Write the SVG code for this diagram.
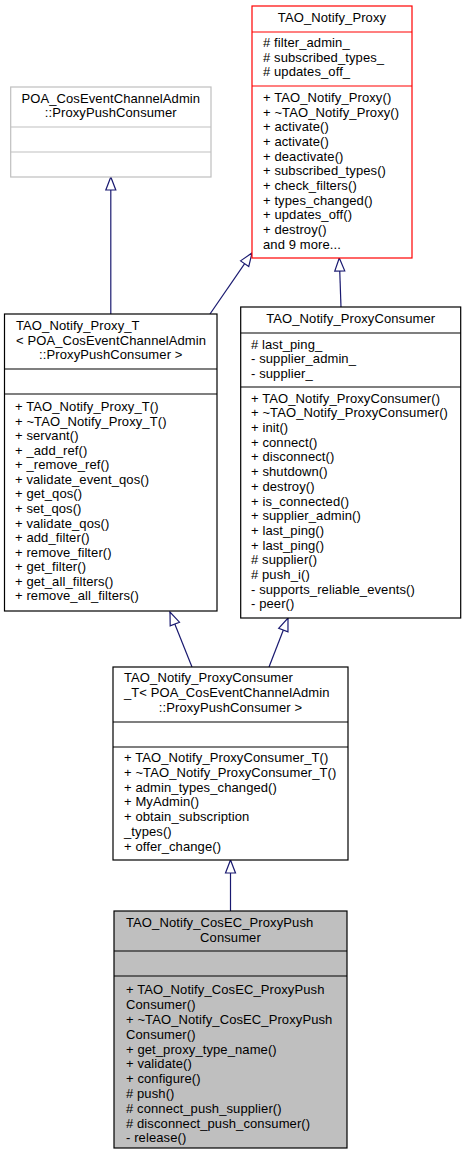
<svg xmlns="http://www.w3.org/2000/svg" width="465" height="1155" viewBox="0 0 465 1155">
<style>
text{font-family:"Liberation Sans",Arial,sans-serif;font-size:13px;letter-spacing:0.1px;fill:#000}
.c{text-anchor:middle}
.box{fill:#fff;stroke:#000;stroke-width:1.2}
.ln{stroke:#000;stroke-width:1.2}
.gbox{fill:#fff;stroke:#bfbfbf;stroke-width:1.2}
.gln{stroke:#bfbfbf;stroke-width:1.2}
.rbox{fill:#fff;stroke:#ff0000;stroke-width:1.2}
.rln{stroke:#ff0000;stroke-width:1.2}
.sbox{fill:#bfbfbf;stroke:#000;stroke-width:1.2}
.edge{fill:none;stroke:#191970;stroke-width:1.2;marker-end:url(#inh)}
</style>
<defs>
<marker id="inh" markerUnits="userSpaceOnUse" markerWidth="16" markerHeight="14" refX="14" refY="7" orient="auto">
<path d="M1,2 L14,7 L1,12 Z" fill="#fff" stroke="#191970" stroke-width="1.2"/>
</marker>
</defs>
<rect width="465" height="1155" fill="#fff"/>

<g id="connectors">
<path class="edge" d="M110.8,314 L110.8,177"/>
<path class="edge" d="M210,314 L252,253"/>
<path class="edge" d="M341,307 L339.3,258"/>
<path class="edge" d="M192,667 L170,612"/>
<path class="edge" d="M269,667 L288,618"/>
<path class="edge" d="M230.5,911 L230.5,860"/>
</g>

<g id="TAO_Notify_Proxy">
<rect class="rbox" x="252" y="6" width="160" height="252"/>
<line class="rln" x1="252" y1="32" x2="412" y2="32"/>
<line class="rln" x1="252" y1="86" x2="412" y2="86"/>
<text class="c" x="332" y="21.8">TAO_Notify_Proxy</text>
<text x="263" y="46.8"># filter_admin_</text>
<text x="263" y="61.5"># subscribed_types_</text>
<text x="263" y="76.2"># updates_off_</text>
<text x="263" y="101.8">+ TAO_Notify_Proxy()</text>
<text x="263" y="116.5">+ ~TAO_Notify_Proxy()</text>
<text x="263" y="131.2">+ activate()</text>
<text x="263" y="145.9">+ activate()</text>
<text x="263" y="160.6">+ deactivate()</text>
<text x="263" y="175.3">+ subscribed_types()</text>
<text x="263" y="190">+ check_filters()</text>
<text x="263" y="204.7">+ types_changed()</text>
<text x="263" y="219.4">+ updates_off()</text>
<text x="263" y="234.1">+ destroy()</text>
<text x="263" y="248.8">and 9 more...</text>
</g>

<g id="POA_ProxyPushConsumer">
<rect class="gbox" x="10.7" y="87" width="200.3" height="90"/>
<line class="gln" x1="10.7" y1="127" x2="211" y2="127"/>
<line class="gln" x1="10.7" y1="152" x2="211" y2="152"/>
<text class="c" x="110.8" y="102.8">POA_CosEventChannelAdmin</text>
<text class="c" x="110.8" y="116.8">::ProxyPushConsumer</text>
</g>

<g id="TAO_Notify_Proxy_T">
<rect class="box" x="4.5" y="314" width="212.5" height="297"/>
<line class="ln" x1="4.5" y1="369" x2="217" y2="369"/>
<line class="ln" x1="4.5" y1="394" x2="217" y2="394"/>
<text x="16" y="330.3">TAO_Notify_Proxy_T</text>
<text x="16" y="344.8">&lt; POA_CosEventChannelAdmin</text>
<text class="c" x="110.8" y="359.3">::ProxyPushConsumer &gt;</text>
<text x="15" y="411">+ TAO_Notify_Proxy_T()</text>
<text x="15" y="425.6">+ ~TAO_Notify_Proxy_T()</text>
<text x="15" y="440.1">+ servant()</text>
<text x="15" y="454.7">+ _add_ref()</text>
<text x="15" y="469.2">+ _remove_ref()</text>
<text x="15" y="483.8">+ validate_event_qos()</text>
<text x="15" y="498.3">+ get_qos()</text>
<text x="15" y="512.9">+ set_qos()</text>
<text x="15" y="527.5">+ validate_qos()</text>
<text x="15" y="542">+ add_filter()</text>
<text x="15" y="556.6">+ remove_filter()</text>
<text x="15" y="571.1">+ get_filter()</text>
<text x="15" y="585.7">+ get_all_filters()</text>
<text x="15" y="600.3">+ remove_all_filters()</text>
</g>

<g id="TAO_Notify_ProxyConsumer">
<rect class="box" x="240.7" y="307" width="220" height="311"/>
<line class="ln" x1="240.7" y1="333" x2="460.7" y2="333"/>
<line class="ln" x1="240.7" y1="387" x2="460.7" y2="387"/>
<text class="c" x="350.7" y="322.6">TAO_Notify_ProxyConsumer</text>
<text x="251" y="348.6"># last_ping_</text>
<text x="251" y="363.1">- supplier_admin_</text>
<text x="251" y="377.6">- supplier_</text>
<text x="251" y="402.6">+ TAO_Notify_ProxyConsumer()</text>
<text x="251" y="417.3">+ ~TAO_Notify_ProxyConsumer()</text>
<text x="251" y="432">+ init()</text>
<text x="251" y="446.7">+ connect()</text>
<text x="251" y="461.4">+ disconnect()</text>
<text x="251" y="476.1">+ shutdown()</text>
<text x="251" y="490.8">+ destroy()</text>
<text x="251" y="505.5">+ is_connected()</text>
<text x="251" y="520.2">+ supplier_admin()</text>
<text x="251" y="534.9">+ last_ping()</text>
<text x="251" y="549.6">+ last_ping()</text>
<text x="251" y="564.3"># supplier()</text>
<text x="251" y="579"># push_i()</text>
<text x="251" y="593.7">- supports_reliable_events()</text>
<text x="251" y="608.4">- peer()</text>
</g>

<g id="TAO_Notify_ProxyConsumer_T">
<rect class="box" x="113" y="667" width="235" height="193"/>
<line class="ln" x1="113" y1="722" x2="348" y2="722"/>
<line class="ln" x1="113" y1="747" x2="348" y2="747"/>
<text x="124" y="682.3">TAO_Notify_ProxyConsumer</text>
<text x="124" y="697.3">_T&lt; POA_CosEventChannelAdmin</text>
<text class="c" x="230.5" y="712.3">::ProxyPushConsumer &gt;</text>
<text x="124" y="762.3">+ TAO_Notify_ProxyConsumer_T()</text>
<text x="124" y="777">+ ~TAO_Notify_ProxyConsumer_T()</text>
<text x="124" y="791.7">+ admin_types_changed()</text>
<text x="124" y="806.4">+ MyAdmin()</text>
<text x="124" y="821.1">+ obtain_subscription</text>
<text x="124" y="835.8">_types()</text>
<text x="124" y="850.5">+ offer_change()</text>
</g>

<g id="TAO_Notify_CosEC_ProxyPushConsumer">
<rect class="sbox" x="114" y="911" width="233" height="237"/>
<line class="ln" x1="114" y1="951" x2="347" y2="951"/>
<line class="ln" x1="114" y1="976" x2="347" y2="976"/>
<text x="126" y="927.3">TAO_Notify_CosEC_ProxyPush</text>
<text class="c" x="230.5" y="941.8">Consumer</text>
<text x="126" y="994.3">+ TAO_Notify_CosEC_ProxyPush</text>
<text x="126" y="1009.1">Consumer()</text>
<text x="126" y="1023.9">+ ~TAO_Notify_CosEC_ProxyPush</text>
<text x="126" y="1038.7">Consumer()</text>
<text x="126" y="1053.5">+ get_proxy_type_name()</text>
<text x="126" y="1068.3">+ validate()</text>
<text x="126" y="1083.1">+ configure()</text>
<text x="126" y="1097.9"># push()</text>
<text x="126" y="1112.7"># connect_push_supplier()</text>
<text x="126" y="1127.5"># disconnect_push_consumer()</text>
<text x="126" y="1142.3">- release()</text>
</g>
</svg>
